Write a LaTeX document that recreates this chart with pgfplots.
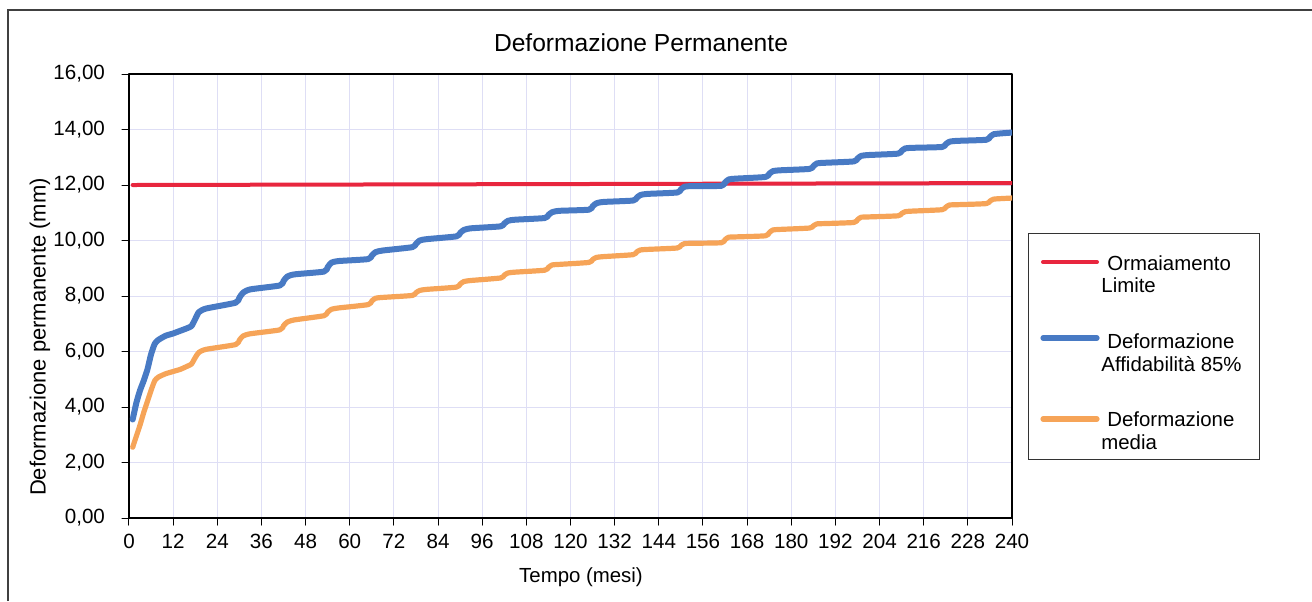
\documentclass[border=0pt]{standalone}
\usepackage{fontspec}
\setmainfont{Liberation Sans}
\usepackage{pgfplots}
\pgfplotsset{compat=1.18}
\definecolor{limred}{RGB}{232,38,62}
\definecolor{dblue}{RGB}{72,122,196}
\definecolor{dorange}{RGB}{246,164,88}
\definecolor{gridc}{RGB}{222,222,245}
\begin{document}
\begin{tikzpicture}[x=0.5pt,y=-0.5pt]
\path[use as bounding box] (0,0) rectangle (1312,601);
\draw[black!75, line width=0.6pt] (8,601) -- (8,10) -- (1312,10);
\begin{axis}[
  at={(64.5pt,-259pt)}, anchor=south west,
  scale only axis, width=441.5pt, height=222pt,
  xmin=0, xmax=240, ymin=0, ymax=16,
  xtick={0,12,...,240}, ytick={0,2,...,16},
  grid=major, major grid style={gridc, line width=0.5pt},
  axis line style={black, line width=1pt},
  tick align=outside, xtick pos=left, ytick pos=left,
  major tick length=3.5pt, tick style={black, line width=0.5pt},
  ticklabel style={font=\fontsize{10.3}{12}\selectfont},
  /pgf/number format/assume math mode=true,
  yticklabel style={xshift=-5pt, /pgf/number format/.cd, fixed, zerofill, precision=2, use comma},
  xticklabel style={yshift=-1pt},
  line join=round, line cap=round,
]
\addplot[limred, line width=2pt] coordinates {(1,12.0)(240,12.07)};
\addplot[dblue, line width=3pt, smooth, tension=0.35] coordinates {
(1,3.55)(2,4.15)(3,4.6)(4,4.95)(5,5.35)(6,5.9)(7,6.28)(8,6.42)(10,6.57)(12,6.65)(14,6.75)(16,6.85)(17,6.92)(18,7.17)(19,7.42)(21,7.55)
(29,7.76)(30,7.94)(31,8.12)(33,8.24)
(41,8.38)(42,8.54)(43,8.70)(45,8.78)
(53,8.88)(54,9.04)(55,9.20)(57,9.26)
(65,9.33)(66,9.46)(67,9.58)(69,9.64)
(77,9.76)(78,9.88)(79,10.0)(81,10.05)
(89,10.15)(90,10.27)(91,10.38)(93,10.44)
(101,10.51)(102,10.61)(103,10.71)(105,10.75)
(113,10.81)(114,10.92)(115,11.02)(117,11.07)
(125,11.11)(126,11.23)(127,11.34)(129,11.39)
(137,11.44)(138,11.54)(139,11.64)(141,11.68)
(149,11.73)(150,11.84)(151,11.94)(153,11.96)
(161,11.97)(162,12.09)(163,12.2)(165,12.23)
(173,12.29)(174,12.4)(175,12.5)(177,12.53)
(185,12.58)(186,12.68)(187,12.78)(189,12.8)
(197,12.85)(198,12.95)(199,13.05)(201,13.08)
(209,13.13)(210,13.23)(211,13.32)(213,13.34)
(221,13.37)(222,13.47)(223,13.56)(225,13.59)
(233,13.63)(234,13.73)(235,13.83)(237,13.86)(240,13.89)};
\addplot[dorange, line width=2.6pt, smooth, tension=0.35] coordinates {
(1,2.55)(2,2.95)(3,3.35)(4,3.8)(5,4.2)(6,4.6)(7,4.95)(8,5.08)(10,5.2)(12,5.28)(14,5.36)(16,5.48)(17,5.55)(18,5.78)(19,5.97)(21,6.08)
(29,6.25)(30,6.41)(31,6.56)(33,6.64)
(41,6.78)(42,6.93)(43,7.06)(45,7.14)
(53,7.29)(54,7.42)(55,7.52)(57,7.57)
(65,7.69)(66,7.82)(67,7.92)(69,7.95)
(77,8.02)(78,8.12)(79,8.2)(81,8.24)
(89,8.32)(90,8.43)(91,8.52)(93,8.56)
(101,8.65)(102,8.75)(103,8.83)(105,8.86)
(113,8.93)(114,9.03)(115,9.12)(117,9.14)
(125,9.21)(126,9.31)(127,9.39)(129,9.42)
(137,9.49)(138,9.59)(139,9.66)(141,9.68)
(149,9.73)(150,9.82)(151,9.89)(153,9.9)
(161,9.92)(162,10.03)(163,10.12)(165,10.13)
(173,10.17)(174,10.28)(175,10.38)(177,10.4)
(185,10.45)(186,10.53)(187,10.6)(189,10.61)
(197,10.65)(198,10.75)(199,10.84)(201,10.85)
(209,10.89)(210,10.97)(211,11.04)(213,11.06)
(221,11.11)(222,11.2)(223,11.28)(225,11.29)
(233,11.33)(234,11.42)(235,11.49)(237,11.51)(240,11.53)};
\end{axis}
% titles
\node[font=\fontsize{12.3}{14}\selectfont] at (641,43) {Deformazione Permanente};
\node[font=\fontsize{11}{13}\selectfont, rotate=90] at (40,337) {Deformazione permanente (mm)};
\node[font=\fontsize{10.2}{12}\selectfont] at (581,577) {Tempo (mesi)};
% legend
\draw[black!80, line width=0.5pt] (1028,233) rectangle (1259,459);
\draw[limred, line width=2pt, line cap=round] (1043,262) -- (1097,262);
\draw[dblue, line width=2.6pt, line cap=round] (1043,338) -- (1097,338);
\draw[dorange, line width=2.6pt, line cap=round] (1043,419) -- (1097,419);
\begin{scope}[every node/.style={font=\fontsize{10.2}{12}\selectfont, anchor=west, inner sep=0pt}]
\node at (1107,263) {Ormaiamento};
\node at (1101,285) {Limite};
\node at (1107,341) {Deformazione};
\node at (1101,364) {Affidabilità 85\%};
\node at (1107,419) {Deformazione};
\node at (1101,442) {media};
\end{scope}
\end{tikzpicture}
\end{document}
